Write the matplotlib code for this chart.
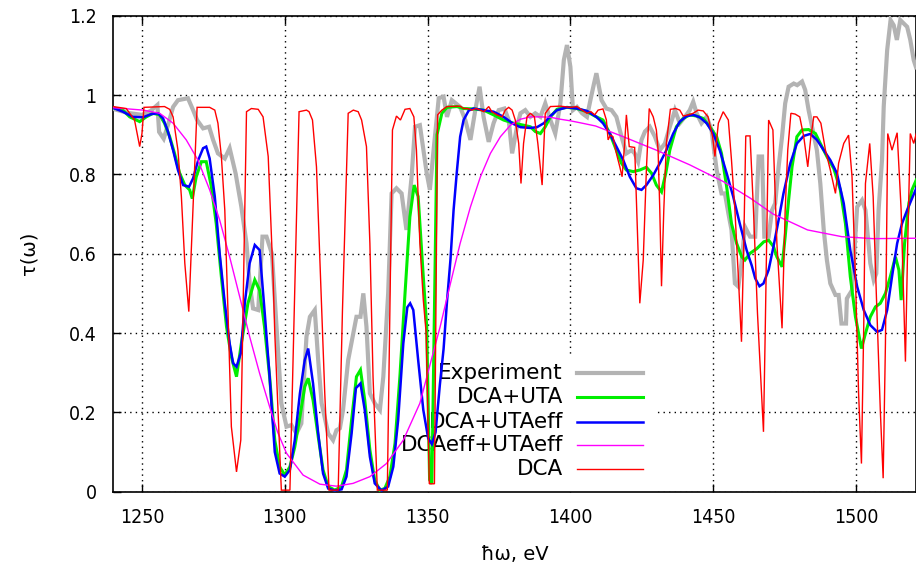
import matplotlib
matplotlib.use("Agg")
import matplotlib.pyplot as plt
from matplotlib.patches import Rectangle
from matplotlib import font_manager

# Experiment (gray)
exp_x = [1240, 1245, 1250, 1253, 1255.4, 1256, 1257.6, 1259.1, 1260.9, 1262.6, 1266.1, 1267.9,
         1269.3, 1271.4, 1273.5, 1274.9, 1276.6, 1279, 1280.7, 1282.8, 1284.8, 1286.6, 1287.7,
         1288.9, 1290.7, 1292.2, 1293.6, 1295.5, 1296.8, 1298.8, 1300.6, 1302.3, 1304.1, 1305.8,
         1307.6, 1308.8, 1310.5, 1311.7, 1312.9, 1315.2, 1316.9, 1318.1, 1319.3, 1320.4, 1322.2,
         1324, 1325.1, 1326.5, 1327.5, 1328.6, 1329.8, 1331.5, 1333.3, 1334.5, 1336.2, 1337.4,
         1339.1, 1340.9, 1342.6, 1344.4, 1345.6, 1347.3, 1349.7, 1350.8, 1352.1, 1353.9, 1355.6,
         1356.8, 1358.5, 1361.4, 1363.2, 1365, 1366.7, 1368.2, 1369.6, 1371.4, 1373.1, 1374.9,
         1376.9, 1378.4, 1379.6, 1381.3, 1382.5, 1384.2, 1386, 1387.7, 1389.5, 1391.2, 1393,
         1394.7, 1396.5, 1397.7, 1398.8, 1400, 1400.9, 1402.3, 1404.1, 1405.8, 1407, 1408.3,
         1409.1, 1410.9, 1412.6, 1414.4, 1416.1, 1417.9, 1419.6, 1421.4, 1422.5, 1423.7, 1424.9,
         1426.1, 1427.8, 1429.6, 1431.3, 1433.1, 1434.8, 1436.6, 1438.3, 1440.1, 1441.8, 1443,
         1444.2, 1445.9, 1447.7, 1449.4, 1451.2, 1452.9, 1454.1, 1455.3, 1456.4, 1457.6, 1458.8,
         1459.9, 1461.1, 1462.9, 1464.7, 1465.9, 1467.1, 1467.9, 1469.4, 1470.6, 1471.7, 1472.9,
         1474.1, 1475.2, 1476.4, 1478.2, 1479.4, 1481.1, 1482.2, 1483.4, 1484.6, 1486.3, 1487.5,
         1488.7, 1489.8, 1491, 1492.8, 1493.9, 1494.9, 1496.5, 1496.8, 1498.6, 1500.4, 1502.1,
         1503.3, 1505, 1506.2, 1507.1, 1507.9, 1509.1, 1509.7, 1510.9, 1512.1, 1513.2, 1514.3,
         1515.5, 1517.9, 1519, 1520.2, 1521]
exp_y = [0.965, 0.955, 0.95, 0.96, 0.975, 0.907, 0.89, 0.924, 0.97, 0.987, 0.992, 0.962,
         0.937, 0.916, 0.92, 0.887, 0.853, 0.84, 0.866, 0.802, 0.718, 0.626, 0.525,
         0.462, 0.458, 0.643, 0.643, 0.6, 0.45, 0.223, 0.164, 0.168, 0.147, 0.172,
         0.391, 0.441, 0.458, 0.332, 0.223, 0.147, 0.13, 0.155, 0.16, 0.206, 0.332,
         0.4, 0.441, 0.441, 0.5, 0.416, 0.248, 0.223, 0.206, 0.29, 0.5, 0.752,
         0.765, 0.752, 0.66, 0.794, 0.92, 0.924, 0.803, 0.761, 0.861, 0.992, 0.996,
         0.945, 0.987, 0.97, 0.937, 0.887, 0.962, 1.021, 0.945, 0.882, 0.929, 0.962,
         0.966, 0.937, 0.853, 0.92, 0.954, 0.962, 0.945, 0.954, 0.945, 0.979, 0.937,
         0.903, 0.979, 1.088, 1.126, 1.071, 0.962, 0.97, 0.954, 0.945, 0.987, 1.03,
         1.055, 0.987, 0.966, 0.962, 0.945, 0.895, 0.853, 0.861, 0.853, 0.832, 0.887,
         0.908, 0.92, 0.895, 0.861, 0.878, 0.92, 0.962, 0.929, 0.945, 0.962, 0.983,
         0.954, 0.929, 0.945, 0.912, 0.811, 0.752, 0.752, 0.702, 0.66, 0.525, 0.517,
         0.576, 0.668, 0.643, 0.643, 0.845, 0.845, 0.643, 0.643, 0.71, 0.727, 0.819,
         0.895, 0.979, 1.021, 1.029, 1.025, 1.034, 1.013, 0.962, 0.92, 0.861, 0.777,
         0.66, 0.584, 0.525, 0.496, 0.496, 0.424, 0.424, 0.487, 0.508, 0.718, 0.735,
         0.71, 0.576, 0.534, 0.55, 0.71, 0.836, 0.971, 1.113, 1.189, 1.176, 1.139,
         1.189, 1.172, 1.139, 1.088, 1.07]

# DCA+UTA (green)
uta_x = [1239.8, 1243.3, 1245.7, 1249.2, 1251.5, 1253.9, 1256.2, 1257.9, 1259.7, 1261.4, 1263.2,
         1265, 1266.7, 1267.6, 1269, 1270.8, 1272.5, 1274.3, 1276, 1277.8, 1279.6, 1281.3, 1283.1,
         1284.8, 1287.1, 1289.5, 1291.2, 1292.9, 1294.7, 1296.5, 1298.2, 1300, 1301.8, 1303.5,
         1305.3, 1307, 1308.2, 1309.9, 1311.7, 1313.4, 1315.2, 1317.5, 1319.9, 1321.6, 1323.4,
         1325.1, 1326.5, 1328, 1329.8, 1331.5, 1333.3, 1335, 1336.8, 1338.6, 1340.3, 1342.1,
         1343.8, 1345.3, 1346.7, 1348.5, 1349.7, 1350.7, 1351.5, 1353.3, 1355, 1356.8, 1360.3,
         1362.6, 1366.1, 1369.6, 1373.1, 1376.6, 1380.1, 1383.6, 1386, 1387.7, 1389.5, 1391.2,
         1393, 1395.3, 1398.8, 1402.3, 1405.8, 1409.1, 1411.4, 1413.8, 1416.1, 1417.9, 1419.6,
         1422, 1424.3, 1426.6, 1428.4, 1430.1, 1431.9, 1433.4, 1434.8, 1437.1, 1439.5, 1441.8,
         1444.2, 1446.5, 1448.8, 1451.2, 1452.9, 1454.7, 1456.4, 1458.2, 1460, 1461.1, 1462.9,
         1465.3, 1467.7, 1469.4, 1471.1, 1472.3, 1474.1, 1475.2, 1476.4, 1477.6, 1479.3, 1481.1,
         1483.4, 1485.8, 1487.5, 1489.8, 1492.2, 1494.5, 1496.3, 1498, 1499.8, 1500.9, 1501.9,
         1503.3, 1505, 1506.8, 1508.5, 1510.3, 1512, 1513.8, 1515, 1515.8, 1517, 1518.5,
         1519.6, 1521.1]
uta_y = [0.968, 0.962, 0.945, 0.933, 0.945, 0.954, 0.95, 0.929, 0.895, 0.853, 0.803,
         0.773, 0.761, 0.739, 0.794, 0.832, 0.832, 0.769, 0.676, 0.542, 0.416, 0.34, 0.29,
         0.374, 0.475, 0.534, 0.508, 0.416, 0.29, 0.13, 0.063, 0.042, 0.063, 0.113,
         0.189, 0.265, 0.286, 0.231, 0.139, 0.055, 0.013, 0.004, 0.013, 0.055, 0.181,
         0.29, 0.307, 0.231, 0.105, 0.029, 0.004, 0.008, 0.038, 0.122, 0.29, 0.5,
         0.693, 0.773, 0.744, 0.542, 0.416, 0.03, 0.02, 0.9, 0.954, 0.969, 0.971,
         0.966, 0.965, 0.962, 0.95, 0.937, 0.929, 0.924, 0.92, 0.908, 0.903, 0.92,
         0.945, 0.964, 0.969, 0.966, 0.958, 0.945, 0.937, 0.903, 0.861, 0.828, 0.811,
         0.807, 0.811, 0.818, 0.803, 0.773, 0.756, 0.803, 0.861, 0.92, 0.941, 0.95,
         0.947, 0.941, 0.92, 0.895, 0.853, 0.769, 0.676, 0.626, 0.592, 0.584, 0.601,
         0.613, 0.63, 0.634, 0.618, 0.592, 0.567, 0.643, 0.735, 0.819, 0.895, 0.912,
         0.913, 0.903, 0.878, 0.845, 0.815, 0.761, 0.676, 0.542, 0.441, 0.399, 0.361,
         0.399, 0.441, 0.466, 0.475, 0.5, 0.542, 0.592, 0.559, 0.483, 0.626, 0.727,
         0.761, 0.786]

# DCA+UTAeff (blue)
utaeff_x = [1239.8, 1243.3, 1246.8, 1250.4, 1253.3, 1255.6, 1257.4, 1259.1, 1260.9, 1262.6,
            1264.4, 1266.5, 1267.9, 1269.7, 1271.4, 1272.5, 1273.7, 1275.5, 1277.2, 1279,
            1280.7, 1281.9, 1283.1, 1284.6, 1286, 1287.7, 1289.5, 1291.2, 1292.9, 1294.7,
            1296.5, 1298.2, 1300, 1301.8, 1303.5, 1305.3, 1307, 1308.2, 1309.9, 1311.7, 1313.4,
            1315.2, 1317.5, 1319.9, 1321.6, 1323.4, 1324.9, 1326.5, 1328, 1329.8, 1331.5,
            1333.9, 1336.2, 1338, 1339.7, 1341.5, 1342.9, 1343.9, 1345, 1346.7, 1348.5, 1350.2,
            1351.5, 1352.8, 1354.3, 1355.6, 1356.8, 1358, 1359.1, 1360.3, 1361.4, 1362.6,
            1364.4, 1366.1, 1369.6, 1373.1, 1376.6, 1380.1, 1382.5, 1386, 1388.3, 1390.7, 1393,
            1395.3, 1398.8, 1402.3, 1405.8, 1409.1, 1411.4, 1413.8, 1416.1, 1418.5, 1420.8,
            1423.1, 1424.9, 1426.6, 1429, 1431.3, 1433.6, 1436, 1438.3, 1440.7, 1443, 1445.3,
            1447.7, 1450, 1452.3, 1454.7, 1457, 1459.3, 1461.7, 1463.5, 1464.7, 1466.2, 1467.6,
            1469.4, 1471.1, 1472.9, 1474.6, 1477, 1479.3, 1481.7, 1484, 1486.3, 1488.7, 1491,
            1493.3, 1495.7, 1498, 1500.4, 1502.7, 1505, 1507.4, 1509.1, 1510.9, 1512.6, 1514.4,
            1516.1, 1517.9, 1519.6, 1521.1]
utaeff_y = [0.968, 0.958, 0.945, 0.944, 0.952, 0.954, 0.941, 0.908, 0.861, 0.811,
            0.773, 0.769, 0.79, 0.836, 0.866, 0.87, 0.84, 0.744, 0.601, 0.475,
            0.374, 0.324, 0.315, 0.349, 0.475, 0.576, 0.622, 0.609, 0.458, 0.29,
            0.1, 0.046, 0.038, 0.055, 0.13, 0.248, 0.332, 0.361, 0.273, 0.147, 0.046,
            0.008, 0.003, 0.006, 0.038, 0.147, 0.261, 0.273, 0.206, 0.088, 0.021,
            0.003, 0.013, 0.063, 0.181, 0.374, 0.465, 0.475, 0.458, 0.332, 0.206, 0.135,
            0.12, 0.15, 0.27, 0.36, 0.48, 0.584, 0.71, 0.811, 0.895, 0.937,
            0.961, 0.966, 0.962, 0.958, 0.945, 0.927, 0.919, 0.917, 0.919, 0.929, 0.947,
            0.962, 0.969, 0.966, 0.96, 0.945, 0.929, 0.903, 0.87, 0.836, 0.794,
            0.765, 0.761, 0.773, 0.798, 0.828, 0.861, 0.903, 0.933, 0.947, 0.95, 0.944,
            0.929, 0.903, 0.861, 0.803, 0.744, 0.676, 0.609, 0.57, 0.538, 0.518, 0.525,
            0.559, 0.618, 0.685, 0.752, 0.828, 0.878, 0.897, 0.902, 0.887, 0.861, 0.836,
            0.803, 0.727, 0.609, 0.517, 0.458, 0.42, 0.403, 0.408, 0.458, 0.542, 0.626,
            0.676, 0.71, 0.739, 0.765]

# DCAeff+UTAeff (magenta)
eff_x = [1240, 1250.4, 1256.2, 1260.9, 1265.5, 1269.6, 1273.7, 1277.2, 1280.7, 1284.2, 1287.7,
         1291.2, 1294.7, 1297.5, 1300.6, 1306.4, 1312.3, 1318.1, 1323.9, 1329.8, 1335.6, 1341.5,
         1347.3, 1351, 1354.4, 1358, 1361.4, 1365, 1368.5, 1372, 1375.5, 1379, 1382.5, 1386,
         1389.5, 1393, 1396.5, 1400, 1403.5, 1408.8, 1418.5, 1430.1, 1441.8, 1453.5, 1463,
         1471, 1483, 1495, 1506, 1521]
eff_y = [0.968, 0.962, 0.954, 0.929, 0.887, 0.836, 0.761, 0.685, 0.592, 0.492, 0.391,
         0.298, 0.214, 0.15, 0.097, 0.042, 0.019, 0.014, 0.021, 0.038, 0.071, 0.13,
         0.223, 0.324, 0.416, 0.525, 0.626, 0.718, 0.794, 0.853, 0.895, 0.924, 0.939, 0.945,
         0.945, 0.944, 0.939, 0.935, 0.93, 0.922, 0.895, 0.861, 0.824, 0.782, 0.74,
         0.70, 0.66, 0.643, 0.638, 0.639]

# DCA (red)
dca_x = [1239.8, 1244.5, 1247.4, 1249.2, 1250, 1250.7, 1257.9, 1259.7, 1260.9, 1262.6, 1263.8,
         1265, 1266.4, 1269.3, 1273.7, 1275.5, 1276.6, 1277.8, 1279, 1280.1, 1281.3, 1283.1,
         1284.6, 1285.4, 1286.6, 1288.3, 1290.7, 1292.4, 1294.2, 1295.9, 1296.5, 1298.8,
         1301.8, 1305, 1307.6, 1308.5, 1309.7, 1311.1, 1312.5, 1314, 1315.5, 1318.7, 1320.2,
         1322.2, 1324, 1325.7, 1326.9, 1328.6, 1329.8, 1330.9, 1332.4, 1335.9, 1336.8, 1337.7,
         1339.1, 1340.5, 1342.1, 1343.8, 1345.2, 1346.1, 1347.3, 1348.5, 1349.5, 1350.6,
         1352.4, 1353.5, 1355, 1356.8, 1361.4, 1362.6, 1364, 1365.5, 1367, 1368.5, 1369.7,
         1371.4, 1372.5, 1374.3, 1376.1, 1377.2, 1378.4, 1379.6, 1380.7, 1381.9, 1382.7,
         1383.6, 1384.8, 1386, 1387.4, 1388.6, 1390.1, 1391.2, 1393, 1396.5, 1400, 1402.3,
         1404.1, 1405.8, 1407.2, 1408.5, 1409.7, 1411.4, 1412.6, 1413.2, 1414, 1414.9, 1416.1,
         1417.3, 1418.1, 1419, 1419.6, 1420.6, 1422.5, 1423.4, 1424.3, 1425.5, 1426.6, 1427.6,
         1429, 1430.1, 1430.7, 1431.3, 1431.9, 1432.7, 1433.6, 1435, 1436.9, 1438.3, 1439.5,
         1441.2, 1443, 1444.7, 1446.5, 1448.2, 1449.8, 1450.6, 1451.8, 1453.5, 1455.3, 1456.4,
         1457.6, 1458.8, 1459.9, 1460.7, 1461.4, 1462.9, 1464.1, 1465.5, 1467.6, 1468.2,
         1469.4, 1470.9, 1472.3, 1474.1, 1475.2, 1476.1, 1477.2, 1478.7, 1480.3, 1481.7,
         1483.1, 1484.2, 1485.2, 1486.3, 1487.7, 1489.3, 1491, 1492.8, 1493.9, 1495.7, 1497.4,
         1498.6, 1499.8, 1500.9, 1501.9, 1502.7, 1503.3, 1504.8, 1506, 1507.1, 1508.5, 1509.5,
         1510.3, 1511.1, 1512.6, 1514.4, 1515.8, 1517.3, 1518.1, 1519, 1520.2, 1521.1]
dca_y = [0.971, 0.966, 0.937, 0.87, 0.903, 0.969, 0.971, 0.964, 0.945, 0.861, 0.744,
         0.576, 0.454, 0.969, 0.969, 0.962, 0.929, 0.845, 0.71, 0.458, 0.164, 0.05,
         0.13, 0.458, 0.958, 0.966, 0.964, 0.945, 0.845, 0.542, 0.4, 0.004,
         0.004, 0.958, 0.962, 0.958, 0.937, 0.819, 0.542, 0.248, 0.004, 0.004, 0.458,
         0.954, 0.962, 0.958, 0.937, 0.87, 0.626, 0.29, 0.004, 0.004, 0.458, 0.912,
         0.947, 0.937, 0.964, 0.966, 0.945, 0.861, 0.626, 0.483, 0.4, 0.02,
         0.02, 0.95, 0.962, 0.971, 0.972, 0.966, 0.966, 0.962, 0.966, 0.962, 0.958,
         0.971, 0.958, 0.95, 0.945, 0.962, 0.969, 0.962, 0.937, 0.878, 0.777,
         0.878, 0.945, 0.954, 0.945, 0.878, 0.773, 0.954, 0.971, 0.972, 0.969, 0.971,
         0.962, 0.954, 0.958, 0.95, 0.962, 0.965, 0.937, 0.887, 0.899, 0.895, 0.853,
         0.819, 0.794, 0.878, 0.95, 0.87, 0.868, 0.668, 0.475, 0.584, 0.811, 0.966,
         0.945, 0.912, 0.861, 0.71, 0.518, 0.71, 0.878, 0.964, 0.966, 0.962, 0.947,
         0.95, 0.954, 0.962, 0.96, 0.945, 0.895, 0.845, 0.929, 0.958, 0.937, 0.836,
         0.71, 0.542, 0.378, 0.626, 0.897, 0.897, 0.71, 0.45, 0.151, 0.4,
         0.937, 0.912, 0.626, 0.412, 0.71, 0.861, 0.954, 0.952, 0.945, 0.895,
         0.819, 0.895, 0.945, 0.945, 0.929, 0.861, 0.811, 0.752, 0.828, 0.878, 0.899,
         0.794, 0.542, 0.248, 0.071, 0.416, 0.777, 0.878, 0.744, 0.5, 0.206, 0.034,
         0.374, 0.903, 0.861, 0.905, 0.71, 0.328, 0.626, 0.903, 0.878, 0.903]

labels = ["Experiment", "DCA+UTA", "DCA+UTAeff", "DCAeff+UTAeff", "DCA"]
colors = ["#b3b3b3", "#00ee00", "#0000ff", "#ff00ff", "#ff0000"]
widths = [3.0, 2.2, 1.8, 1.0, 1.0]

xticks = [1250, 1300, 1350, 1400, 1450, 1500]
yticks = [0, 0.2, 0.4, 0.6, 0.8, 1.0, 1.2]
yticklabels = ["0", "0.2", "0.4", "0.6", "0.8", "1", "1.2"]

# tick labels in the reference look condensed; use it if the system has it
cond = font_manager.FontProperties(family="DejaVu Sans", stretch="condensed")
cond_file = font_manager.findfont(cond, fallback_to_default=True)
if "Condensed" in cond_file:
    tick_font = font_manager.FontProperties(fname=cond_file, size=14)
else:
    tick_font = font_manager.FontProperties(family="DejaVu Sans", size=13)

fig = plt.figure(figsize=(9.16, 5.65), dpi=100)
ax = fig.add_axes([0.1238, 0.1297, 0.8762, 0.8425])

series = [(exp_x, exp_y), (uta_x, uta_y), (utaeff_x, utaeff_y), (eff_x, eff_y), (dca_x, dca_y)]
for (xs, ys), c, lw in zip(series, colors, widths):
    ax.plot(xs, ys, color=c, lw=lw, zorder=3, solid_joinstyle="miter")

ax.set_xlim(1240, 1521)
ax.set_ylim(0, 1.2)
ax.set_xticks(xticks)
ax.set_yticks(yticks)
ax.set_yticklabels(yticklabels)
ax.grid(True, color="black", linestyle=(0, (1, 3)), linewidth=1.0)
ax.set_axisbelow(True)
ax.tick_params(direction="in", length=6, width=1, top=True, colors="black")
ax.tick_params(axis="y", pad=12)
ax.tick_params(axis="x", pad=12)
for t in ax.get_xticklabels() + ax.get_yticklabels():
    t.set_fontproperties(tick_font)
for s in ax.spines.values():
    s.set_linewidth(1.2)

# opaque key box hides the grid, curves stay on top
ax.add_patch(Rectangle((0.33, 0.0), 0.344, 0.285, transform=ax.transAxes,
                       facecolor="white", edgecolor="none", zorder=1))
key_y = [0.249, 0.2, 0.147, 0.098, 0.048]
for lab, c, lw, ky in zip(labels, colors, widths, key_y):
    ax.text(0.560, ky, lab, transform=ax.transAxes, ha="right", va="center",
            fontsize=15.5, zorder=2)
    ax.plot([0.577, 0.660], [ky, ky], transform=ax.transAxes, color=c, lw=lw, zorder=4)

ax.set_xlabel("ħω, eV", fontsize=14, labelpad=13)
ax.set_ylabel("τ(ω)", fontsize=14, labelpad=22)

fig.savefig("out.png", dpi=100)
